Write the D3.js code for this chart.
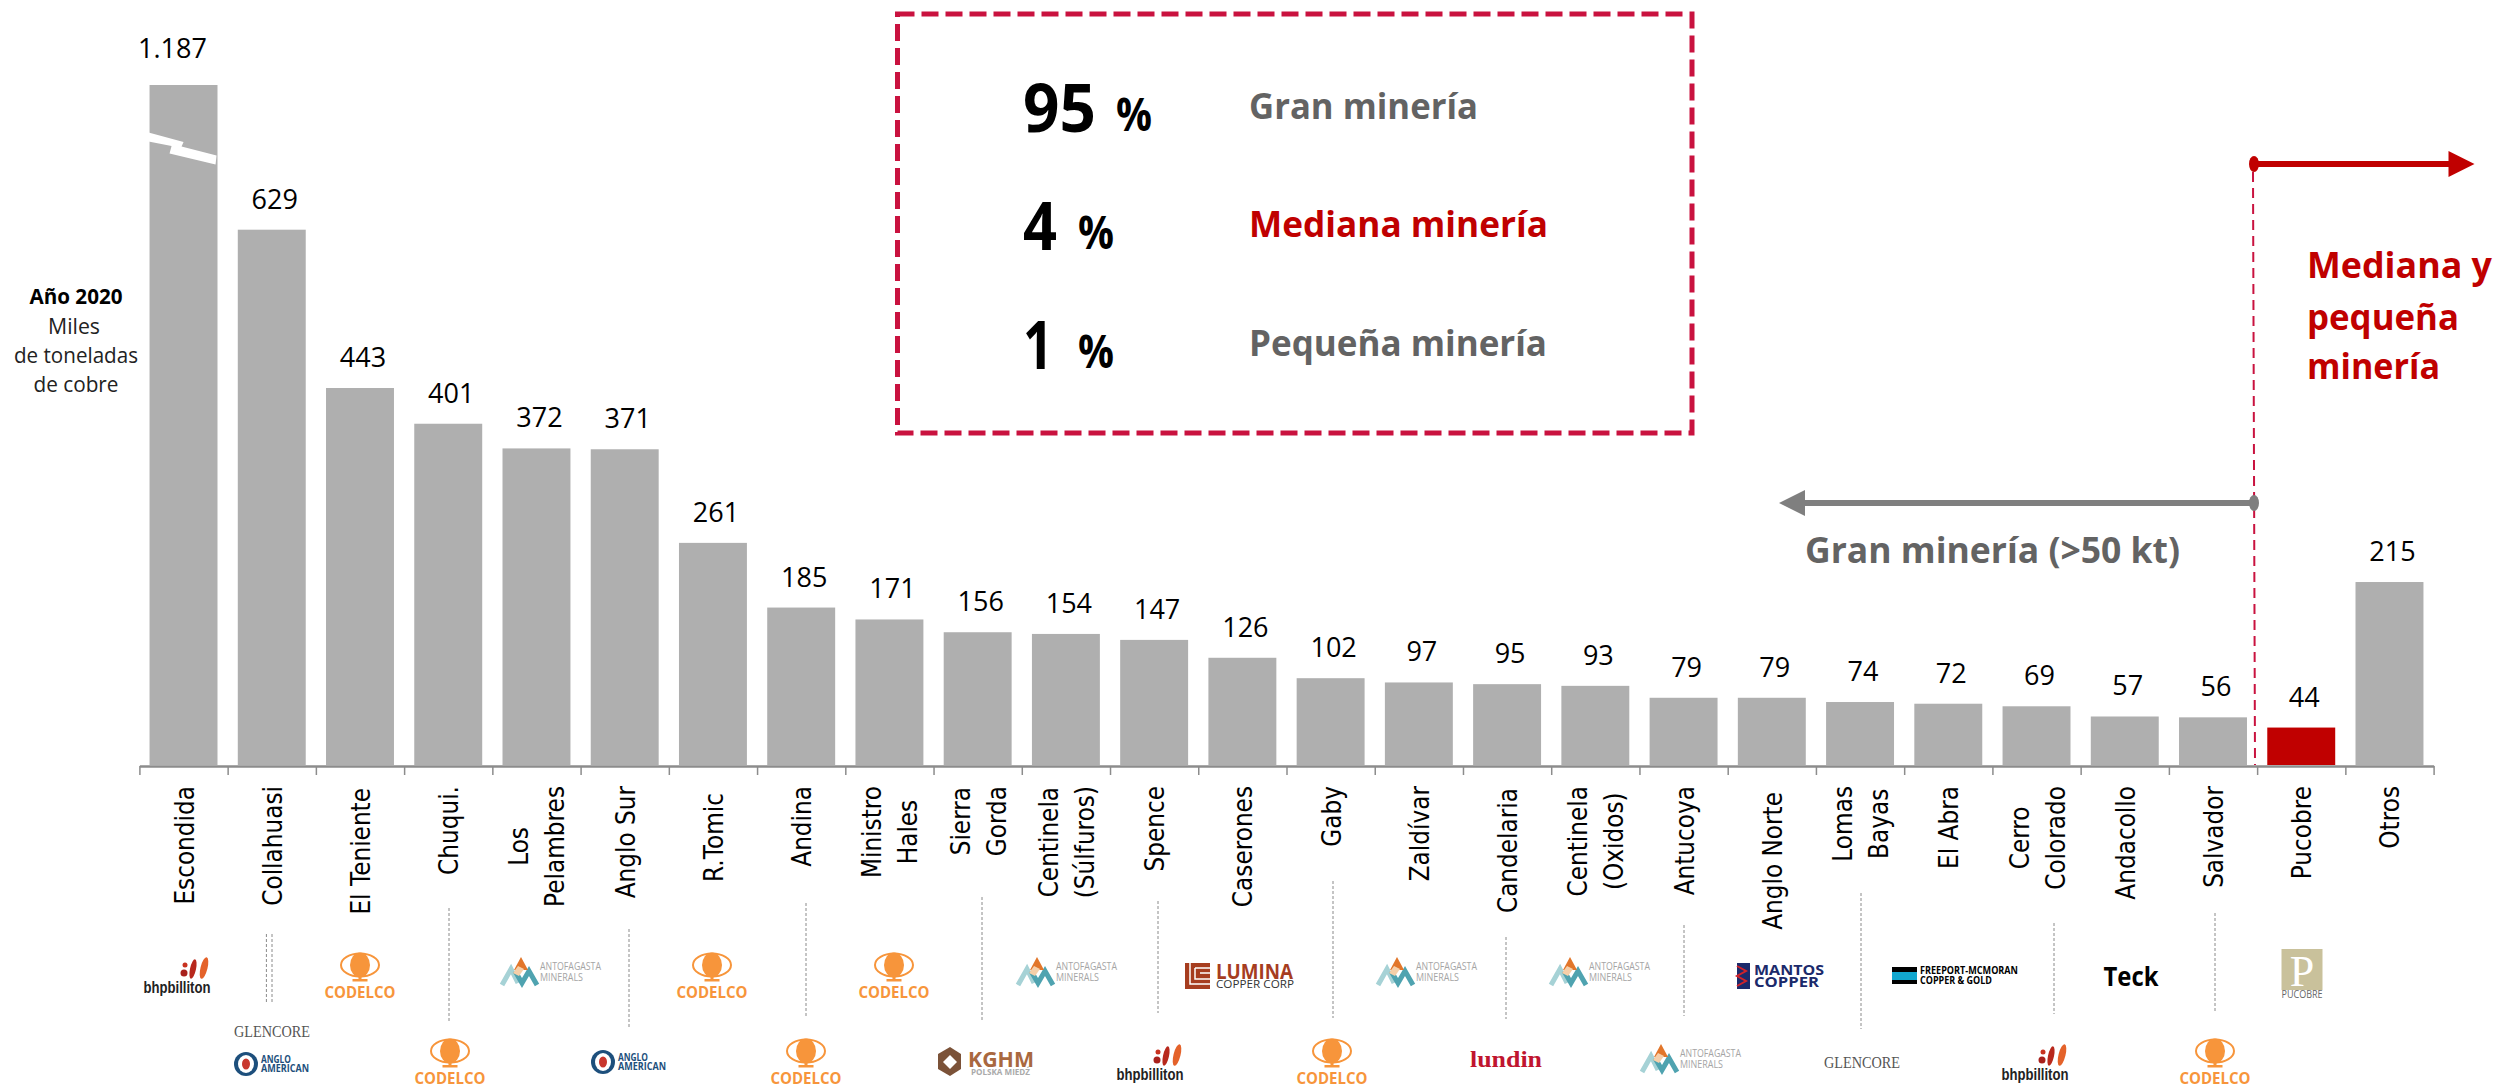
<!DOCTYPE html>
<html>
<head>
<meta charset="utf-8">
<script src="https://d3js.org/d3.v7.min.js"></script>
<style>
    html, body { margin: 0; padding: 0; background: #fff; }
    svg { display: block; }
</style>
</head>
<body>
<svg id="chart" width="2514" height="1084"></svg>
<script>
// chart data
const categories = ["Escondida", "Collahuasi", "El Teniente", "Chuqui.", "Los\nPelambres", "Anglo Sur", "R.Tomic", "Andina",
    "Ministro\nHales", "Sierra\nGorda", "Centinela\n(Súlfuros)", "Spence", "Caserones", "Gaby", "Zaldívar", "Candelaria",
    "Centinela\n(Oxidos)", "Antucoya", "Anglo Norte", "Lomas\nBayas", "El Abra", "Cerro\nColorado", "Andacollo", "Salvador",
    "Pucobre", "Otros"]
const production = [1187, 629, 443, 401, 372, 371, 261, 185, 171, 156, 154, 147, 126, 102, 97, 95, 93, 79, 79, 74, 72, 69, 57, 56, 44, 215]
const shares = ["95", "4", "1"]
const shareLabels = ["Gran minería", "Mediana minería", "Pequeña minería"]
const highlighted = "Pucobre"

const grey = "#afafaf"
const red = "#c00000"
const crimson = "#c9123f"
const darkGrey = "#636363"
const labelFont = "'Open Sans', sans-serif"

const svg = d3.select("#chart")

// dots are the thousands separator in the source
const formatValue = d3.formatLocale({ decimal: ",", thousands: ".", grouping: [3], currency: ["", ""] }).format(",")

const baseY = 765
const left = 139.4
const right = 2433.6

// bands for the bars
const xScale = d3.scaleBand()
    .domain(categories)
    .range([left, right])
    .paddingInner(0.23)
    .paddingOuter(0.115)

// y axis is broken above 725, the first bar does not fit otherwise
const yScale = d3.scaleLinear()
    .domain([0, 725, 1187])
    .range([baseY, 148, 85])

// ticks sit between the bars, so the axis gets its own scale
const edgeScale = d3.scaleLinear().domain([0, categories.length]).range([left, right])

const bars = categories.map((c, i) => ({ name: c, value: production[i] }))
const center = name => xScale(name) + xScale.bandwidth() / 2

// helper for text with a forced width, fonts differ from the original
function addText(g, str, x, y, o) {
    const t = g.append("text")
        .attr("x", x)
        .attr("y", y)
        .attr("font-family", o.font || labelFont)
        .attr("font-size", o.size)
        .attr("font-weight", o.weight || "normal")
        .attr("fill", o.fill || "#000")
        .attr("text-anchor", o.anchor || "start")
        .text(str)
    if (o.width) {
        t.attr("textLength", o.width).attr("lengthAdjust", "spacingAndGlyphs")
    }
    return t
}

// bars
svg.append("g")
    .selectAll("rect")
    .data(bars)
    .join("rect")
    .attr("x", d => xScale(d.name))
    .attr("y", d => yScale(d.value))
    .attr("width", xScale.bandwidth())
    .attr("height", d => baseY - yScale(d.value))
    .attr("fill", d => d.name === highlighted ? red : grey)

// axis break on the first bar
const bx = xScale(categories[0])
svg.append("path")
    .attr("d", `M${bx - 1},132.5 L${bx + 34},142 L${bx + 32},146.5 L${bx + 67},155.5 L${bx + 66},164.5 L${bx + 20},153.5 L${bx + 22},146 L${bx - 1},141.5 Z`)
    .attr("fill", "#fff")

// axis
const axis = svg.append("g")
    .attr("transform", `translate(0,${baseY + 1})`)
    .call(d3.axisBottom(edgeScale).tickValues(d3.range(categories.length + 1)).tickSize(9).tickSizeOuter(0).tickFormat(""))
axis.select(".domain").attr("stroke", "#8c8c8c").attr("stroke-width", 2.5)
axis.selectAll(".tick line").attr("stroke", "#8c8c8c").attr("stroke-width", 1.5)

// value labels
svg.append("g")
    .selectAll("text")
    .data(bars)
    .join("text")
    .attr("x", (d, i) => center(d.name) + (i === 0 ? -11 : 3))
    .attr("y", (d, i) => yScale(d.value) - (i === 0 ? 27 : 21))
    .attr("text-anchor", "middle")
    .attr("font-family", labelFont)
    .attr("font-size", 27)
    .attr("fill", "#000")
    .text(d => formatValue(d.value))

// category labels, rotated and slightly squeezed along the text
const labelTop = 786
const labelNudge = { "R.Tomic": 7, "Anglo Norte": 6, "Candelaria": 2, "El Teniente": 2 }
const labelSqueeze = 0.86
categories.forEach(c => {
    const lines = c.split("\n")
    const g = svg.append("g")
        .attr("transform", `translate(${center(c)},0)`)
    const texts = lines.map((line, i) => {
        return g.append("text")
            .attr("font-family", "'DejaVu Sans', sans-serif")
            .attr("font-size", 27)
            .attr("fill", "#000")
            .attr("text-anchor", "middle")
            .text(line)
    })
    const longest = d3.max(texts, t => t.node().getComputedTextLength()) * labelSqueeze
    const midY = labelTop + (labelNudge[c] || 0) + longest / 2
    texts.forEach((t, i) => {
        const dx = (i - (lines.length - 1) / 2) * 36 + 10
        t.attr("transform", `translate(${dx},${midY}) rotate(-90) scale(${labelSqueeze},1)`)
    })
})

// thin dotted leaders from the labels to the logos in the lower row
const leaders = [
    { x: 266.4, y1: 934, y2: 1002 }, { x: 272, y1: 934, y2: 1002 },
    { x: 449, y1: 908, y2: 1022 }, { x: 629, y1: 929, y2: 1028 },
    { x: 806, y1: 903, y2: 1017 }, { x: 982, y1: 897, y2: 1021 },
    { x: 1158, y1: 901, y2: 1013 }, { x: 1333, y1: 881, y2: 1018 },
    { x: 1506, y1: 937, y2: 1019 }, { x: 1684, y1: 925, y2: 1016 },
    { x: 1861, y1: 893, y2: 1029 }, { x: 2054, y1: 923, y2: 1014 },
    { x: 2215, y1: 913, y2: 1013 }
]
svg.append("g")
    .selectAll("line")
    .data(leaders)
    .join("line")
    .attr("x1", d => d.x)
    .attr("x2", d => d.x)
    .attr("y1", d => d.y1)
    .attr("y2", d => d.y2)
    .attr("stroke", "#8a8a8a")
    .attr("stroke-width", 1)
    .attr("stroke-dasharray", "3 2")

// left caption
const caption = svg.append("g")
addText(caption, "Año 2020", 76, 304, { size: 22, weight: "bold", anchor: "middle", width: 93 })
addText(caption, "Miles", 74, 334, { size: 22, fill: "#222", anchor: "middle", width: 52 })
addText(caption, "de toneladas", 76, 363, { size: 22, fill: "#222", anchor: "middle", width: 124 })
addText(caption, "de cobre", 76, 392, { size: 22, fill: "#222", anchor: "middle", width: 85 })

// dashed box with the shares
svg.append("rect")
    .attr("x", 897.5)
    .attr("y", 14)
    .attr("width", 794.5)
    .attr("height", 419)
    .attr("fill", "none")
    .attr("stroke", crimson)
    .attr("stroke-width", 5)
    .attr("stroke-dasharray", "17 7")

const box = svg.append("g")
const shareRows = [
    { base: 132, pctX: 1116, numW: 73, labelW: 229, color: darkGrey },
    { base: 250, pctX: 1078, numW: 34, labelW: 299, color: red },
    { base: 369, pctX: 1078, numW: 30, labelW: 298, color: darkGrey }
]
shares.forEach((s, i) => {
    const r = shareRows[i]
    addText(box, s, 1023, r.base, { size: 66, weight: "bold", width: r.numW })
    addText(box, "%", r.pctX, r.base - 1, { size: 46, weight: "bold", width: 36 })
    addText(box, shareLabels[i], 1249, r.base - 13 - (i === 0 ? 0 : 0), { size: 36, weight: "bold", fill: r.color, width: r.labelW })
})

// red arrow and the divider
const splitX = 2254
svg.append("line")
    .attr("x1", splitX - 1).attr("x2", splitX + 1)
    .attr("y1", 172).attr("y2", baseY)
    .attr("stroke", crimson)
    .attr("stroke-width", 2)
    .attr("stroke-dasharray", "10 6")

const arrow = (y, x1, x2, color) => {
    const dir = x2 > x1 ? 1 : -1
    svg.append("line")
        .attr("x1", x1).attr("x2", x2 - dir * 25)
        .attr("y1", y).attr("y2", y)
        .attr("stroke", color)
        .attr("stroke-width", 6)
    svg.append("ellipse")
        .attr("cx", x1).attr("cy", y)
        .attr("rx", 5).attr("ry", 8)
        .attr("fill", color)
    svg.append("path")
        .attr("d", `M${x2},${y} L${x2 - dir * 26},${y - 13} L${x2 - dir * 26},${y + 13} Z`)
        .attr("fill", color)
}
arrow(164, splitX, 2474.5, red)
arrow(503, splitX, 1779, "#7f7f7f")

const notes = svg.append("g")
addText(notes, "Gran minería (>50 kt)", 1805, 563, { size: 36, weight: "bold", fill: darkGrey, width: 375 })
addText(notes, "Mediana y", 2307, 278, { size: 36, weight: "bold", fill: red, width: 185 })
addText(notes, "pequeña", 2307, 330, { size: 36, weight: "bold", fill: red, width: 152 })
addText(notes, "minería", 2307, 379, { size: 36, weight: "bold", fill: red, width: 133 })

// logos, simple drawings of the company marks. cx is the centre, y the top of the mark
const logoDraw = {
    codelco(g) {
        const c = "#f7953b"
        g.append("ellipse").attr("cx", 0).attr("cy", 12).attr("rx", 19).attr("ry", 11.5).attr("fill", "none").attr("stroke", c).attr("stroke-width", 2)
        g.append("ellipse").attr("cx", 0).attr("cy", 12).attr("rx", 10).attr("ry", 12.5).attr("fill", c)
        g.append("rect").attr("x", -1.5).attr("y", 23).attr("width", 3).attr("height", 5).attr("fill", c)
        g.append("rect").attr("x", -7.5).attr("y", 26).attr("width", 15).attr("height", 2.5).attr("fill", c)
        addText(g, "CODELCO", 0, 45, { size: 16, weight: "bold", fill: c, anchor: "middle", width: 71 })
    },
    bhp(g) {
        g.append("circle").attr("cx", 8).attr("cy", 8).attr("r", 2.5).attr("fill", "#c8321f")
        g.append("circle").attr("cx", 7).attr("cy", 16).attr("r", 3.5).attr("fill", "#a8201c")
        g.append("ellipse").attr("cx", 16).attr("cy", 12).attr("rx", 3).attr("ry", 10).attr("transform", "rotate(12 16 12)").attr("fill", "#b8281c")
        g.append("ellipse").attr("cx", 27).attr("cy", 11).attr("rx", 3.5).attr("ry", 11).attr("transform", "rotate(14 27 11)").attr("fill", "#e4622a")
        addText(g, "bhpbilliton", 0, 36, { size: 16, weight: "bold", fill: "#222", anchor: "middle", width: 67, font: "'Liberation Sans Narrow', sans-serif" })
    },
    antofagasta(g) {
        g.append("path").attr("d", "M-49,28 L-40,12 L-33,26").attr("fill", "none").attr("stroke", "#a6d2d6").attr("stroke-width", 5)
        g.append("path").attr("d", "M-36,14 L-29,26 L-22,14 L-14,28").attr("fill", "none").attr("stroke", "#4fa3b0").attr("stroke-width", 5)
        g.append("path").attr("d", "M-30,0 L-37,13 L-23,13 Z").attr("fill", "#e2762a")
        g.append("path").attr("d", "M-33,9 L-38,16 L-32,19 L-27,12 Z").attr("fill", "#f6cfa9")
        addText(g, "ANTOFAGASTA", -11, 13, { size: 10, fill: "#a5a5a5", width: 61 })
        addText(g, "MINERALS", -11, 24, { size: 10, fill: "#a5a5a5", width: 43 })
    },
    anglo(g) {
        g.append("ellipse").attr("cx", -26).attr("cy", 12).attr("rx", 12).attr("ry", 12).attr("fill", "#1d4f7c")
        g.append("ellipse").attr("cx", -26).attr("cy", 12).attr("rx", 8).attr("ry", 9).attr("fill", "#fff")
        g.append("ellipse").attr("cx", -26).attr("cy", 12).attr("rx", 4).attr("ry", 5.5).attr("fill", "#c8372e")
        addText(g, "ANGLO", -11, 11, { size: 10, weight: "bold", fill: "#1d4f7c", width: 30 })
        addText(g, "AMERICAN", -11, 20, { size: 10, weight: "bold", fill: "#1d4f7c", width: 48 })
    },
    glencore(g) {
        addText(g, "GLENCORE", 0, 13, { size: 16, fill: "#555", anchor: "middle", width: 76, font: "'Liberation Serif', serif" })
    },
    kghm(g) {
        g.append("path").attr("d", "M-36,0 L-25,7 L-25,22 L-36,29 L-48,22 L-48,7 Z").attr("fill", "#7b5238")
        g.append("path").attr("d", "M-36,8 L-29,15 L-36,22 L-43,15 Z").attr("fill", "#fff")
        addText(g, "KGHM", -18, 20, { size: 21, weight: "bold", fill: "#a9683f", width: 66 })
        addText(g, "POLSKA MIEDŹ", -15, 28, { size: 8, weight: "bold", fill: "#aaa", width: 59 })
    },
    lumina(g) {
        const c = "#a63d1f"
        g.append("rect").attr("x", -55).attr("y", 0).attr("width", 25).attr("height", 26).attr("fill", c)
        g.append("path").attr("d", "M-50,0 L-50,21 L-30,21 M-45,5 L-30,5 M-45,5 L-45,16 L-30,16 M-40,10 L-30,10").attr("fill", "none").attr("stroke", "#fff").attr("stroke-width", 1.5)
        addText(g, "LUMINA", -24, 16, { size: 22, weight: "bold", fill: c, width: 77 })
        addText(g, "COPPER CORP", -24, 25, { size: 10, fill: "#333", width: 78 })
    },
    mantos(g) {
        g.append("rect").attr("x", -44).attr("y", 0).attr("width", 13).attr("height", 26).attr("fill", "#1b2a6b")
        g.append("path").attr("d", "M-44,3 L-35,8 L-44,13 L-35,18 L-44,23").attr("fill", "none").attr("stroke", "#d1232a").attr("stroke-width", 2)
        addText(g, "MANTOS", -27, 12, { size: 15, weight: "bold", fill: "#1b2a6b", width: 70 })
        addText(g, "COPPER", -27, 24, { size: 15, weight: "bold", fill: "#1b2a6b", width: 65 })
    },
    freeport(g) {
        g.append("rect").attr("x", -63).attr("y", 0).attr("width", 25).attr("height", 17).attr("fill", "#000")
        g.append("rect").attr("x", -63).attr("y", 5).attr("width", 25).attr("height", 8).attr("fill", "#12a7cf")
        addText(g, "FREEPORT-MCMORAN", -35, 7, { size: 10, weight: "bold", width: 98 })
        addText(g, "COPPER & GOLD", -35, 17, { size: 10, weight: "bold", width: 72 })
    },
    teck(g) {
        addText(g, "Teck", 0, 20, { size: 27, weight: "bold", anchor: "middle", width: 55 })
    },
    lundin(g) {
        addText(g, "lundin", 0, 17, { size: 24, weight: "bold", fill: "#c0152f", anchor: "middle", width: 72, font: "'Liberation Serif', serif" })
    },
    pucobre(g) {
        g.append("rect").attr("x", -20.5).attr("y", 0).attr("width", 41).attr("height", 41).attr("fill", "#c9c19b")
        addText(g, "P", 0, 37, { size: 44, fill: "#fff", anchor: "middle", font: "'Liberation Serif', serif" })
        addText(g, "PUCOBRE", 0, 49, { size: 10, fill: "#666", anchor: "middle", width: 41 })
    }
}

const logoSpots = [
    ["bhp", 177, 957], ["codelco", 360, 953], ["antofagasta", 551, 957], ["codelco", 712, 953], ["codelco", 894, 953],
    ["antofagasta", 1067, 957], ["lumina", 1240, 963], ["antofagasta", 1427, 957], ["antofagasta", 1600, 957],
    ["mantos", 1781, 963], ["freeport", 1955, 967], ["teck", 2131, 966], ["pucobre", 2302, 949],
    ["glencore", 272, 1024], ["anglo", 272, 1052], ["codelco", 450, 1039], ["anglo", 629, 1050], ["codelco", 806, 1039],
    ["kghm", 986, 1047], ["bhp", 1150, 1044], ["codelco", 1332, 1039], ["lundin", 1506, 1050], ["antofagasta", 1691, 1044],
    ["glencore", 1862, 1055], ["bhp", 2035, 1044], ["codelco", 2215, 1039]
]
logoSpots.forEach(([name, cx, top]) => {
    logoDraw[name](svg.append("g").attr("transform", `translate(${cx},${top})`))
})
</script>
</body>
</html>
